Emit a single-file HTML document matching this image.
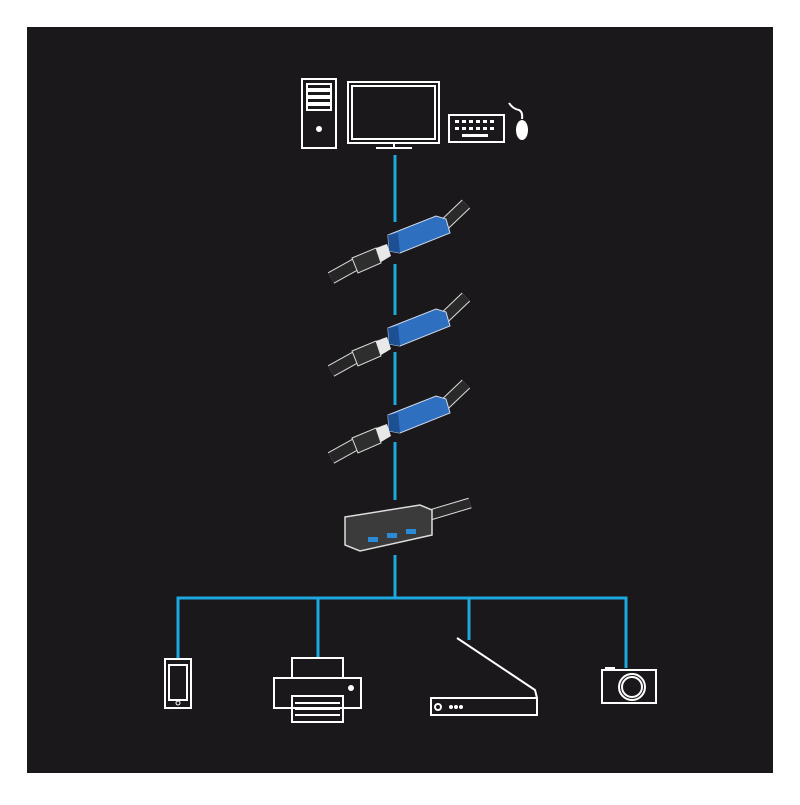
<!DOCTYPE html>
<html><head><meta charset="utf-8"><style>body{margin:0;background:#fff}</style></head><body>
<svg width="800" height="800" viewBox="0 0 800 800" xmlns="http://www.w3.org/2000/svg">
<rect x="0" y="0" width="800" height="800" fill="#fff"/>
<rect x="27" y="27" width="746" height="746" fill="#1b181c"/>
<g stroke="#1ea8e0" stroke-width="3" fill="none">
<line x1="395" y1="155" x2="395" y2="222"/>
<line x1="395" y1="264" x2="395" y2="315"/>
<line x1="395" y1="352" x2="395" y2="405"/>
<line x1="395" y1="442" x2="395" y2="500"/>
<line x1="395" y1="555" x2="395" y2="598"/>
<polyline points="178,660 178,598 626,598 626,668"/>
<line x1="318" y1="598" x2="318" y2="658"/>
<line x1="469" y1="598" x2="469" y2="640"/>
</g>
<g stroke="#fff" stroke-width="2" fill="none">
<rect x="302" y="79" width="34" height="69"/>
<rect x="307" y="84" width="24" height="5"/><rect x="307" y="91" width="24" height="5"/><rect x="307" y="98" width="24" height="5"/><rect x="307" y="105" width="24" height="5"/>
<rect x="348" y="82" width="91" height="61"/>
<rect x="352" y="86" width="83" height="53"/>
<line x1="376" y1="148" x2="412" y2="148"/><line x1="394" y1="143" x2="394" y2="147"/>
<rect x="449" y="115" width="55" height="27"/>
<path d="M509,103 q4,6 10,7 q4,2 3,9"/>
</g>
<circle cx="319" cy="129" r="3" fill="#fff"/>
<ellipse cx="522" cy="130" rx="6" ry="10" fill="#fff"/>
<g fill="#fff">
<rect x="455" y="120" width="4" height="3"/><rect x="462" y="120" width="4" height="3"/><rect x="469" y="120" width="4" height="3"/><rect x="476" y="120" width="4" height="3"/><rect x="483" y="120" width="4" height="3"/><rect x="490" y="120" width="4" height="3"/>
<rect x="455" y="127" width="4" height="3"/><rect x="462" y="127" width="4" height="3"/><rect x="469" y="127" width="4" height="3"/><rect x="476" y="127" width="4" height="3"/><rect x="483" y="127" width="4" height="3"/><rect x="490" y="127" width="4" height="3"/>
<rect x="462" y="134" width="26" height="3"/>
</g>
<defs>
<g id="cab">
<line x1="444" y1="318" x2="466" y2="297" stroke="#ddd" stroke-width="12"/>
<line x1="444" y1="318" x2="466" y2="297" stroke="#2a2a2a" stroke-width="10"/>
<path d="M388,328 L436,309 L446,312 L450,326 L400,346 L389,344 Z" fill="#2f6fc0" stroke="#cfd8e8" stroke-width="1"/>
<path d="M388,328 L398,326 L400,346 L389,344 Z" fill="#1d4f93"/>
<line x1="331" y1="371" x2="358" y2="356" stroke="#ddd" stroke-width="13"/>
<line x1="331" y1="371" x2="358" y2="356" stroke="#262626" stroke-width="11"/>
<path d="M352,351 L376,341 L381,356 L358,366 Z" fill="#2e2e2e" stroke="#ddd" stroke-width="1"/>
<path d="M376,341 L387,337 L391,349 L381,355 Z" fill="#e8e8e8"/>
</g>
</defs>
<use href="#cab" x="0" y="-93"/>
<use href="#cab" x="0" y="0"/>
<use href="#cab" x="0" y="87"/>
<line x1="430" y1="515" x2="470" y2="503" stroke="#ddd" stroke-width="11"/>
<line x1="430" y1="515" x2="470" y2="503" stroke="#2a2a2a" stroke-width="9"/>
<path d="M345,517 L420,505 L432,510 L432,535 L360,551 L345,545 Z" fill="#3b3b3b" stroke="#ddd" stroke-width="1.5"/>
<g fill="#2a8ad6"><rect x="368" y="537" width="10" height="5"/><rect x="387" y="533" width="10" height="5"/><rect x="406" y="529" width="10" height="5"/></g>
<g stroke="#fff" stroke-width="2" fill="none">
<rect x="165" y="659" width="26" height="49"/><rect x="169" y="665" width="18" height="35"/>
<circle cx="178" cy="703" r="2" stroke-width="1"/>
<rect x="292" y="658" width="51" height="20"/>
<rect x="274" y="678" width="87" height="30"/>
<rect x="292" y="696" width="51" height="26"/>
<line x1="295" y1="703" x2="340" y2="703"/><line x1="295" y1="709" x2="340" y2="709"/><line x1="295" y1="715" x2="340" y2="715"/>
<path d="M457,638 L535,690 L537,698"/>
<rect x="431" y="698" width="106" height="17"/>
<circle cx="438" cy="707" r="3"/>
<rect x="602" y="670" width="54" height="33"/>
<circle cx="632" cy="687" r="13"/><circle cx="632" cy="687" r="10"/>
</g>
<g fill="#fff"><circle cx="451" cy="707" r="2"/><circle cx="456" cy="707" r="2"/><circle cx="461" cy="707" r="2"/><circle cx="351" cy="688" r="3"/><rect x="605" y="667" width="10" height="3"/></g>
</svg>
</body></html>
